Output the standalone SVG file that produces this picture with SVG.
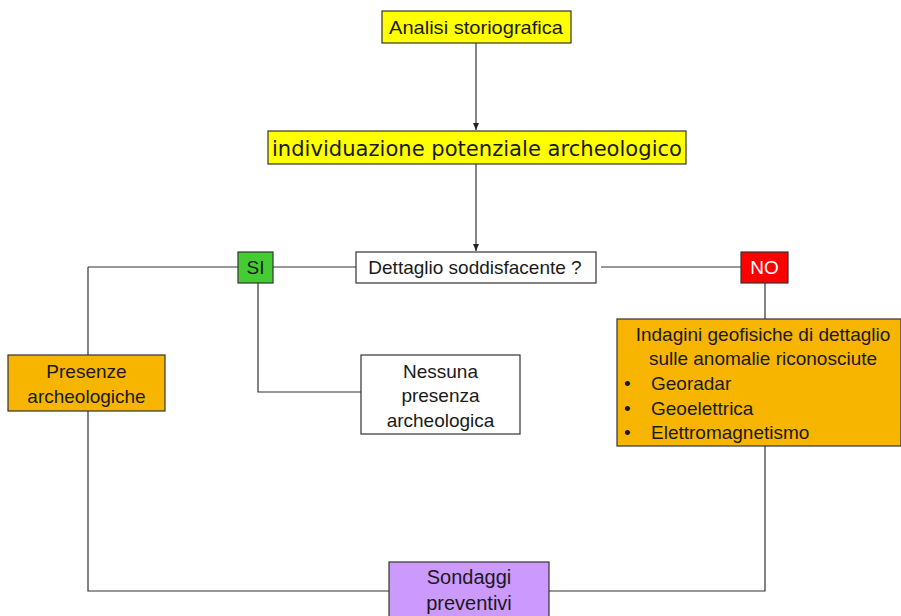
<svg xmlns="http://www.w3.org/2000/svg" width="901" height="616" viewBox="0 0 901 616">
<defs>
<marker id="ah" markerWidth="8" markerHeight="8" refX="7" refY="4" orient="auto" markerUnits="userSpaceOnUse">
<path d="M0,1 L7,4 L0,7 z" fill="#222"/>
</marker>
<style>
.box{stroke:#333;stroke-width:1.2}
.t{font-family:"Liberation Sans",Arial,sans-serif;font-size:19px;fill:#1a1a1a;text-anchor:middle}
.c{fill:none;stroke:#333;stroke-width:1.2}
</style>
</defs>
<rect width="901" height="616" fill="#fff"/>
<g id="connectors">
<path class="c" d="M476,43 V130" marker-end="url(#ah)"/>
<path class="c" d="M476,164 V251" marker-end="url(#ah)"/>
<path class="c" d="M273,267 H356"/>
<path class="c" d="M88,267 H238"/>
<path class="c" d="M88,267 V355"/>
<path class="c" d="M88,411 V591 H389"/>
<path class="c" d="M258,283 V392 H361"/>
<path class="c" d="M601,267 H741"/>
<path class="c" d="M765,283 V319"/>
<path class="c" d="M765,446 V591 H549"/>
</g>
<g id="analisi">
<rect class="box" x="382" y="11" width="189" height="32" fill="#ffff00"/>
<text class="t" x="476" y="34" textLength="174" lengthAdjust="spacingAndGlyphs">Analisi storiografica</text>
</g>
<g id="individuazione">
<rect class="box" x="268" y="131" width="418" height="33" fill="#ffff00"/>
<text class="t" x="477" y="156" style="font-family:'DejaVu Sans',sans-serif;font-size:22px" textLength="410" lengthAdjust="spacingAndGlyphs">individuazione potenziale archeologico</text>
</g>
<g id="dettaglio">
<rect class="box" x="356" y="252" width="240" height="31" fill="#fff"/>
<text class="t" x="475" y="274">Dettaglio soddisfacente ?</text>
</g>
<g id="si">
<rect class="box" x="238" y="252" width="35" height="31" fill="#44cc33"/>
<text class="t" x="255.5" y="274">SI</text>
</g>
<g id="no">
<rect class="box" x="741" y="252" width="47" height="31" fill="#ff0000"/>
<text class="t" x="764.5" y="274" style="fill:#fff">NO</text>
</g>
<g id="presenze">
<rect class="box" x="8" y="355" width="157" height="56" fill="#f7b500"/>
<text class="t" x="86.5" y="378">Presenze</text>
<text class="t" x="86.5" y="403">archeologiche</text>
</g>
<g id="nessuna">
<rect class="box" x="361" y="355" width="159" height="79" fill="#fff"/>
<text class="t" x="440.5" y="378">Nessuna</text>
<text class="t" x="440.5" y="402">presenza</text>
<text class="t" x="440.5" y="427">archeologica</text>
</g>
<g id="indagini">
<rect class="box" x="617" y="319" width="284" height="127" fill="#f7b500"/>
<text class="t" x="763" y="341">Indagini geofisiche di dettaglio</text>
<text class="t" x="763" y="365">sulle anomalie riconosciute</text>
<text class="t" x="624" y="390" style="text-anchor:start">•</text>
<text class="t" x="651" y="390" style="text-anchor:start">Georadar</text>
<text class="t" x="624" y="415" style="text-anchor:start">•</text>
<text class="t" x="651" y="415" style="text-anchor:start">Geoelettrica</text>
<text class="t" x="624" y="439" style="text-anchor:start">•</text>
<text class="t" x="651" y="439" style="text-anchor:start">Elettromagnetismo</text>
</g>
<g id="sondaggi">
<rect class="box" x="389" y="562" width="160" height="60" fill="#cc99ff"/>
<text class="t" x="469" y="584" style="font-size:20px">Sondaggi</text>
<text class="t" x="469" y="610" style="font-size:20px">preventivi</text>
</g>
</svg>
